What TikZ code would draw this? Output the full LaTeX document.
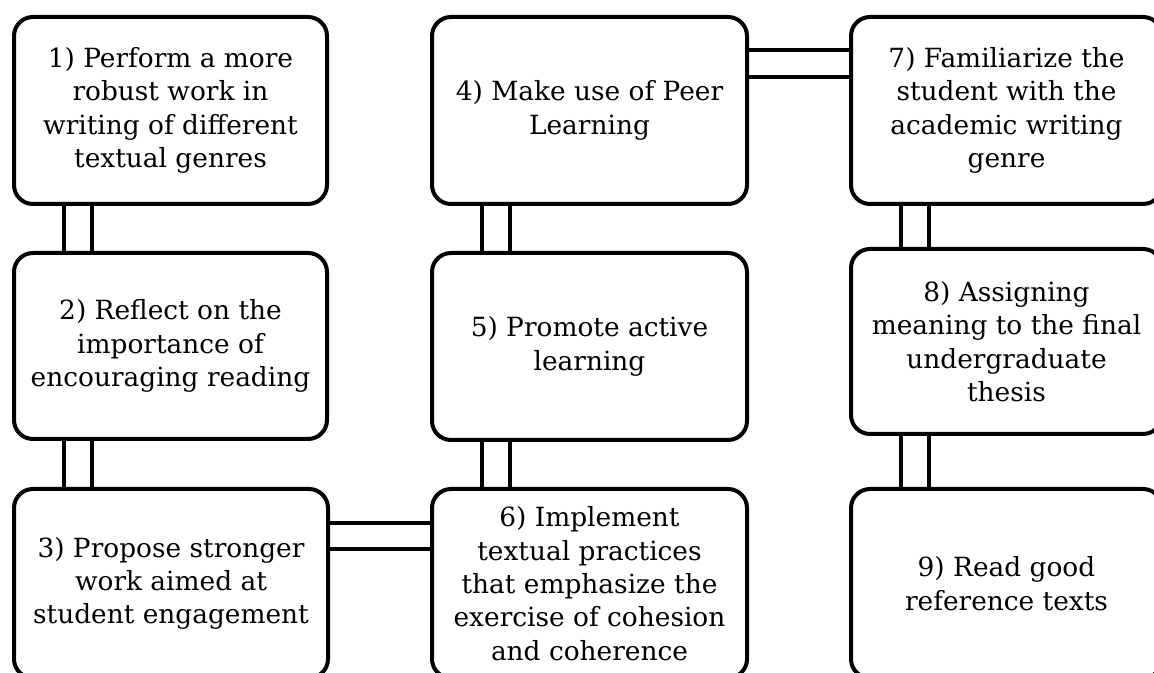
\documentclass[tikz,border=0pt]{standalone}
\usepackage{fontspec}
\setmainfont{DejaVu Serif}
\usetikzlibrary{calc}
\begin{document}
\begin{tikzpicture}[x=0.75pt,y=-0.75pt,
  box/.style={draw, line width=3pt, rounded corners=14.25pt, outer sep=0pt, inner sep=0pt,
    align=center, font=\fontsize{19.8}{25}\selectfont},
  link/.style={line width=3pt}]
\useasboundingbox (0,0) rectangle (1154,673);
% column 1
\node[box, minimum width=234.75pt, minimum height=140.25pt] (b1) at (170.5,110.5)
  {1) Perform a more\\robust work in\\writing of different\\textual genres};
\node[box, minimum width=234.75pt, minimum height=139.5pt] (b2) at (170.5,346)
  {2) Reflect on the\\importance of\\encouraging reading};
\node[box, minimum width=235.5pt, minimum height=141.75pt] (b3) at (171,583.5)
  {3) Propose stronger\\work aimed at\\student engagement};
% column 2
\node[box, minimum width=236.25pt, minimum height=140.25pt] (b4) at (589.5,110.5)
  {4) Make use of Peer\\Learning};
\node[box, minimum width=236.25pt, minimum height=140.25pt] (b5) at (589.5,346.5)
  {5) Promote active\\learning};
\node[box, minimum width=236.25pt, minimum height=141.75pt] (b6) at (589.5,583.5)
  {6) Implement\\textual practices\\that emphasize the\\exercise of cohesion\\and coherence};
% column 3
\node[box, minimum width=233.25pt, minimum height=140.25pt] (b7) at (1006.5,110.5)
  {7) Familiarize the\\student with the\\academic writing\\genre};
\node[box, minimum width=233.25pt, minimum height=138.75pt] (b8) at (1006.5,341.5)
  {8) Assigning\\meaning to the final\\undergraduate\\thesis};
\node[box, minimum width=233.25pt, minimum height=141.75pt] (b9) at (1006.5,583.5)
  {9) Read good\\reference texts};
% vertical double links
\foreach \a/\b in {b1/b2,b2/b3,b4/b5,b5/b6,b7/b8,b8/b9}{
  \draw[link] ($(\a.south west)+(50,0)$) -- ($(\b.north west)+(50,0)$);
  \draw[link] ($(\a.south west)+(78,0)$) -- ($(\b.north west)+(78,0)$);
}
% horizontal double links
\draw[link] ($(b4.north east)+(0,33)$) -- ($(b7.north west)+(0,33)$);
\draw[link] ($(b4.north east)+(0,60)$) -- ($(b7.north west)+(0,60)$);
\draw[link] ($(b3.north east)+(0,34)$) -- ($(b6.north west)+(0,34)$);
\draw[link] ($(b3.north east)+(0,60)$) -- ($(b6.north west)+(0,60)$);
\end{tikzpicture}
\end{document}
